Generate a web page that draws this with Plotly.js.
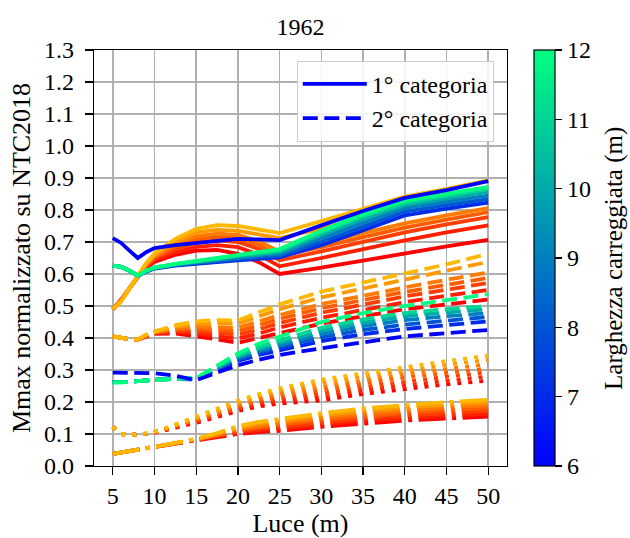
<!DOCTYPE html>
<html>
<head>
<meta charset="utf-8">
<script src="https://cdn.plot.ly/plotly-3.0.1.min.js"></script>
<style>html,body{margin:0;padding:0;background:#fff}#chart{width:630px;height:538px}</style>
</head>
<body>
<div id="chart"></div>
<script>
// Span (Luce, m)
const luce = [5, 6, 7, 8, 9, 10, 12.5, 15, 17.5, 20, 22.5, 25, 30, 35, 40, 45, 50];
const widths = [6, 7, 8, 9, 10, 11, 12];
const xTicks = [5, 10, 15, 20, 25, 30, 35, 40, 45, 50];
const yTicks = [0, 0.1, 0.2, 0.3, 0.4, 0.5, 0.6, 0.7, 0.8, 0.9, 1.0, 1.1, 1.2, 1.3];

// 1° categoria, coloured by carriageway width 6..12 m
const solidWinter = [
  [0.712,0.697,0.673,0.650,0.668,0.681,0.690,0.697,0.705,0.710,0.708,0.706,0.752,0.797,0.838,0.862,0.890],
  [0.626,0.622,0.610,0.595,0.607,0.617,0.626,0.632,0.638,0.643,0.647,0.652,0.690,0.735,0.783,0.804,0.823],
  [0.626,0.622,0.610,0.595,0.608,0.618,0.628,0.634,0.641,0.648,0.652,0.657,0.700,0.748,0.795,0.815,0.834],
  [0.626,0.622,0.610,0.595,0.609,0.619,0.629,0.636,0.644,0.652,0.658,0.663,0.712,0.760,0.806,0.826,0.845],
  [0.626,0.622,0.610,0.595,0.609,0.619,0.630,0.637,0.646,0.655,0.662,0.668,0.722,0.772,0.815,0.837,0.857],
  [0.626,0.622,0.610,0.595,0.610,0.620,0.631,0.639,0.648,0.658,0.665,0.673,0.729,0.780,0.822,0.845,0.865],
  [0.626,0.622,0.610,0.595,0.610,0.620,0.632,0.640,0.650,0.660,0.668,0.678,0.735,0.787,0.829,0.851,0.872]
];
// 1° categoria, second family (red -> gold)
const solidAutumn = [
  [0.490,0.520,0.556,0.590,0.618,0.638,0.660,0.673,0.675,0.663,0.637,0.600,0.620,0.643,0.665,0.686,0.707],
  [0.490,0.518,0.555,0.592,0.622,0.643,0.668,0.685,0.690,0.684,0.660,0.624,0.650,0.678,0.705,0.730,0.752],
  [0.490,0.517,0.555,0.593,0.625,0.648,0.678,0.698,0.705,0.700,0.678,0.643,0.671,0.700,0.730,0.755,0.778],
  [0.490,0.516,0.555,0.594,0.628,0.652,0.686,0.708,0.716,0.712,0.690,0.657,0.684,0.715,0.745,0.770,0.793],
  [0.490,0.516,0.555,0.594,0.630,0.656,0.694,0.718,0.726,0.722,0.702,0.670,0.696,0.728,0.758,0.783,0.806],
  [0.490,0.515,0.555,0.595,0.632,0.660,0.702,0.730,0.738,0.735,0.725,0.712,0.742,0.776,0.810,0.835,0.860],
  [0.490,0.515,0.555,0.595,0.634,0.664,0.710,0.741,0.753,0.750,0.740,0.728,0.765,0.803,0.842,0.866,0.893]
];
// 2° categoria, coloured by width
const dashedWinter = [
  [0.292,0.292,0.292,0.292,0.291,0.290,0.282,0.268,0.292,0.315,0.332,0.347,0.368,0.388,0.405,0.415,0.425],
  [0.262,0.262,0.263,0.265,0.267,0.270,0.272,0.270,0.300,0.328,0.347,0.362,0.390,0.412,0.428,0.440,0.452],
  [0.262,0.262,0.263,0.265,0.267,0.270,0.272,0.271,0.303,0.333,0.355,0.372,0.402,0.425,0.442,0.455,0.466],
  [0.262,0.262,0.263,0.265,0.267,0.270,0.272,0.272,0.306,0.338,0.360,0.378,0.412,0.437,0.456,0.468,0.478],
  [0.262,0.262,0.263,0.265,0.267,0.270,0.273,0.273,0.309,0.342,0.366,0.385,0.422,0.448,0.468,0.480,0.490],
  [0.262,0.262,0.263,0.265,0.267,0.270,0.273,0.274,0.312,0.346,0.372,0.392,0.432,0.458,0.478,0.490,0.500],
  [0.260,0.260,0.262,0.265,0.267,0.270,0.273,0.275,0.315,0.352,0.382,0.405,0.450,0.478,0.500,0.518,0.537]
];
const dashedAutumn = [
  [0.405,0.400,0.396,0.395,0.405,0.413,0.414,0.406,0.396,0.385,0.400,0.418,0.445,0.468,0.490,0.505,0.520],
  [0.405,0.400,0.396,0.395,0.406,0.415,0.419,0.414,0.406,0.398,0.414,0.433,0.463,0.488,0.512,0.532,0.550],
  [0.405,0.400,0.396,0.395,0.407,0.416,0.423,0.421,0.416,0.410,0.427,0.447,0.479,0.505,0.530,0.551,0.572],
  [0.405,0.400,0.396,0.395,0.408,0.417,0.427,0.428,0.425,0.421,0.440,0.460,0.493,0.519,0.544,0.566,0.588],
  [0.405,0.400,0.396,0.395,0.409,0.418,0.431,0.435,0.434,0.432,0.452,0.472,0.506,0.533,0.558,0.582,0.605],
  [0.405,0.400,0.396,0.395,0.410,0.419,0.435,0.444,0.446,0.445,0.467,0.490,0.527,0.555,0.582,0.610,0.638],
  [0.405,0.400,0.396,0.395,0.410,0.420,0.440,0.452,0.456,0.455,0.480,0.505,0.545,0.573,0.600,0.630,0.663]
];
const dottedAutumn = [
  [0.122,0.100,0.097,0.098,0.100,0.104,0.118,0.135,0.153,0.172,0.186,0.195,0.205,0.225,0.240,0.255,0.267],
  [0.122,0.100,0.097,0.098,0.100,0.104,0.120,0.138,0.157,0.177,0.193,0.203,0.215,0.236,0.252,0.267,0.280],
  [0.122,0.100,0.097,0.098,0.101,0.105,0.122,0.141,0.161,0.182,0.200,0.211,0.226,0.247,0.264,0.279,0.293],
  [0.122,0.100,0.097,0.098,0.101,0.105,0.124,0.144,0.165,0.187,0.206,0.219,0.237,0.258,0.276,0.291,0.305],
  [0.122,0.100,0.097,0.098,0.101,0.106,0.126,0.147,0.169,0.192,0.212,0.227,0.248,0.268,0.287,0.303,0.318],
  [0.122,0.100,0.097,0.098,0.102,0.106,0.128,0.151,0.174,0.198,0.219,0.235,0.259,0.279,0.298,0.316,0.332],
  [0.122,0.100,0.097,0.098,0.102,0.107,0.130,0.155,0.178,0.204,0.225,0.243,0.270,0.290,0.310,0.328,0.345]
];
const dashdotAutumn = [
  [0.038,0.043,0.047,0.051,0.055,0.060,0.070,0.080,0.090,0.100,0.106,0.110,0.122,0.133,0.142,0.148,0.154],
  [0.038,0.043,0.047,0.051,0.055,0.060,0.070,0.081,0.092,0.104,0.111,0.116,0.129,0.141,0.150,0.157,0.163],
  [0.038,0.043,0.047,0.051,0.055,0.060,0.071,0.082,0.094,0.108,0.117,0.123,0.136,0.148,0.158,0.166,0.172],
  [0.038,0.043,0.048,0.052,0.056,0.060,0.071,0.082,0.096,0.112,0.122,0.129,0.144,0.156,0.166,0.175,0.181],
  [0.038,0.043,0.048,0.052,0.056,0.060,0.071,0.083,0.098,0.116,0.127,0.135,0.151,0.164,0.174,0.184,0.190],
  [0.038,0.043,0.048,0.052,0.056,0.060,0.072,0.084,0.100,0.120,0.133,0.142,0.158,0.172,0.182,0.192,0.198],
  [0.038,0.043,0.048,0.052,0.056,0.060,0.072,0.085,0.103,0.125,0.138,0.148,0.165,0.180,0.190,0.200,0.207]
];

const winterColors = ['rgb(0,0,255)','rgb(0,43,234)','rgb(0,85,213)','rgb(0,128,191)','rgb(0,170,170)','rgb(0,213,149)','rgb(0,255,128)'];
const autumnColors = ['rgb(255,0,0)','rgb(255,31,0)','rgb(255,61,0)','rgb(255,92,0)','rgb(255,122,0)','rgb(255,153,0)','rgb(255,184,0)'];
const winterScale = [[0,'rgb(0,0,255)'],[1,'rgb(0,255,128)']];

const FONT = 'Liberation Serif, Times New Roman, serif';
const TICK_SIZE = 24;
const LABEL_SIZE = 26;
const LW = 3.8;
const DASH = '15px,6.5px';
const DOT = '4px,7px';
const DASHDOT = '27px,6.5px,4px,6.5px';

const traces = [];
function addGroup(series, colors, dash, order, names) {
  order.forEach(i => {
    traces.push({
      type: 'scatter', mode: 'lines', x: luce, y: series[i],
      line: {color: colors[i], width: LW, dash: dash},
      name: names && names[i] ? names[i] : '',
      showlegend: !!(names && names[i]),
      hoverinfo: 'skip'
    });
  });
}
const upOrder = [0,1,2,3,4,5,6];
addGroup(dashdotAutumn, autumnColors, DASHDOT, upOrder);
addGroup(dottedAutumn, autumnColors, DOT, upOrder);
addGroup(dashedAutumn, autumnColors, DASH, upOrder);
addGroup(solidAutumn, autumnColors, 'solid', upOrder);
addGroup(dashedWinter, winterColors, DASH, [1,2,3,4,5,6,0], {0: '2° categoria'});
addGroup(solidWinter, winterColors, 'solid', [1,2,3,4,5,6,0], {0: '1° categoria'});
traces.forEach(t => { if (t.name === '1° categoria') t.legendrank = 1; if (t.name === '2° categoria') t.legendrank = 2; });

// colour bar for width
traces.push({
  type: 'scatter', mode: 'markers', x: [luce[0]], y: [solidWinter[0][0]],
  marker: {color: [widths[0]], cmin: widths[0], cmax: widths[widths.length-1], colorscale: winterScale, opacity: 0, size: 1,
    showscale: true,
    colorbar: {x: 1.065, xanchor: 'left', xpad: 0, ypad: 0, y: 0.5, yanchor: 'middle', len: 1, lenmode: 'fraction',
      thickness: 21, thicknessmode: 'pixels', outlinecolor: '#000', outlinewidth: 1.2,
      tickvals: widths, ticks: 'outside', ticklen: 7, tickwidth: 1.2, tickcolor: '#000',
      tickfont: {family: FONT, size: TICK_SIZE, color: '#000'}}},
  showlegend: false, hoverinfo: 'skip'
});

const axisCommon = {
  showline: true, mirror: true, linecolor: '#000', linewidth: 1.2,
  ticks: 'outside', ticklen: 8, tickwidth: 1.2, tickcolor: '#000',
  showgrid: true, gridcolor: '#b0b0b0', gridwidth: 1.6, zeroline: false,
  tickfont: {family: FONT, size: TICK_SIZE, color: '#000'}
};
const layout = {
  width: 630, height: 538,
  margin: {l: 94, r: 123, t: 50, b: 72},
  paper_bgcolor: '#fff', plot_bgcolor: '#fff',
  font: {family: FONT, color: '#000'},
  title: {text: '1962', x: 0.5, xref: 'paper', y: 0.95, yanchor: 'middle', font: {family: FONT, size: 24, color: '#000'}},
  xaxis: Object.assign({}, axisCommon, {range: [2.75, 52.25], tickvals: xTicks, ticklabelstandoff: 0,
    title: {text: 'Luce (m)', font: {family: FONT, size: LABEL_SIZE, color: '#000'}, standoff: 4}}),
  yaxis: Object.assign({}, axisCommon, {range: [0, 1.3], tickvals: yTicks, tickformat: '.1f', ticklabelstandoff: 6,
    title: {text: 'Mmax normalizzato su NTC2018', font: {family: FONT, size: LABEL_SIZE, color: '#000'}, standoff: 6}}),
  legend: {x: 0.491, y: 0.974, xanchor: 'left', yanchor: 'top', bgcolor: 'rgba(255,255,255,0.85)',
    bordercolor: '#cccccc', borderwidth: 1, itemwidth: 64, font: {family: FONT, size: 24, color: '#000'}, traceorder: 'normal'},
  annotations: [{text: 'Larghezza carreggiata (m)', xref: 'paper', yref: 'paper', x: 1.259, y: 0.5,
    xanchor: 'center', yanchor: 'middle', textangle: -90, showarrow: false,
    font: {family: FONT, size: 25, color: '#000'}}],
  showlegend: true
};
Plotly.newPlot('chart', traces, layout, {staticPlot: true, displayModeBar: false});
</script>
</body>
</html>
